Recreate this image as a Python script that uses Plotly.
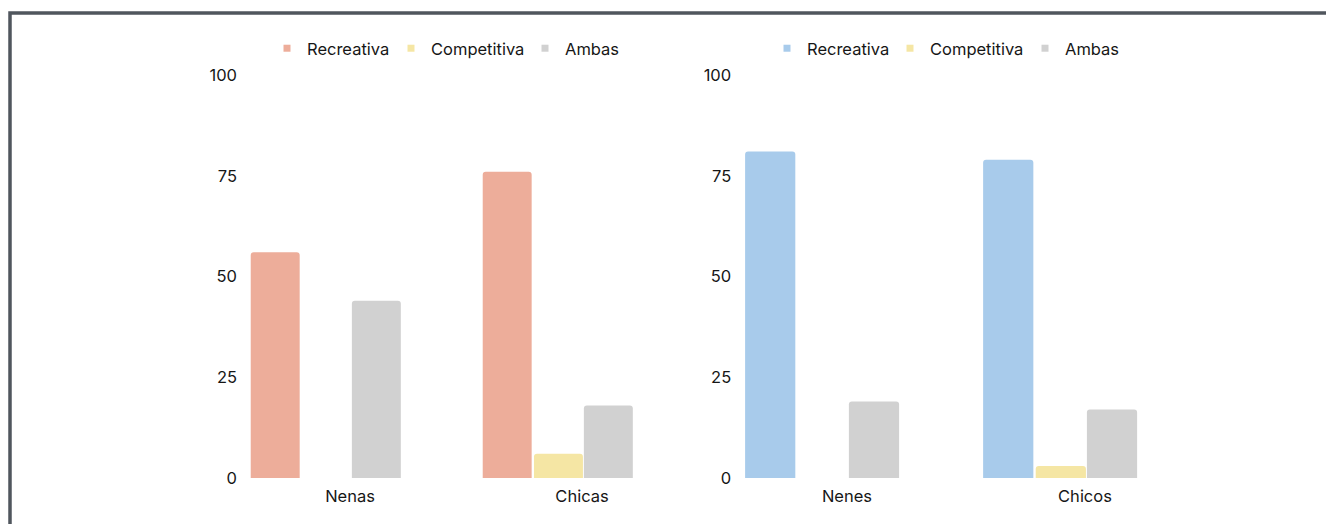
import plotly.graph_objects as go

W, H = 1326, 524

# --- data -------------------------------------------------------------
categorias_izq = ["Nenas", "Chicas"]
categorias_der = ["Nenes", "Chicos"]
series = ["Recreativa", "Competitiva", "Ambas"]

recreativa_izq = [56, 76]
competitiva_izq = [0, 6]
ambas_izq = [44, 18]

recreativa_der = [81, 79]
competitiva_der = [0, 3]
ambas_der = [19, 17]

y_ticks = [0, 25, 50, 75, 100]

# --- styles -----------------------------------------------------------
colores_izq = {"Recreativa": "#EDAD9A", "Competitiva": "#F5E6A4", "Ambas": "#D1D1D1"}
colores_der = {"Recreativa": "#A8CBEB", "Competitiva": "#F5E6A4", "Ambas": "#D1D1D1"}
FONT = dict(family="Inter, Roboto, Arial, sans-serif", size=16.5, color="#161616")

BAR_W = 0.211
OFFSETS = {"Recreativa": -0.428, "Competitiva": -0.207, "Ambas": 0.008}

# left edge (px) of each legend entry, one row above each panel
LEG_X_IZQ = {"Recreativa": 267, "Competitiva": 391, "Ambas": 525}
LEG_X_DER = {"Recreativa": 767, "Competitiva": 890, "Ambas": 1025}
LEG_Y = 48.5


def px_x(p):
    return p / W


def px_y(p):
    return 1 - p / H


fig = go.Figure()

paneles = [
    ("x", "y", categorias_izq,
     {"Recreativa": recreativa_izq, "Competitiva": competitiva_izq, "Ambas": ambas_izq},
     colores_izq, LEG_X_IZQ),
    ("x2", "y2", categorias_der,
     {"Recreativa": recreativa_der, "Competitiva": competitiva_der, "Ambas": ambas_der},
     colores_der, LEG_X_DER),
]

legend_layout = {}
n_leg = 0
for xa, ya, cats, valores, colores, leg_x in paneles:
    for s in series:
        n_leg += 1
        leg_name = "legend" if n_leg == 1 else f"legend{n_leg}"
        fig.add_trace(go.Bar(
            x=cats, y=valores[s], name=s,
            xaxis=xa, yaxis=ya,
            width=BAR_W, offset=OFFSETS[s],
            marker=dict(color=colores[s], line=dict(width=0)),
            showlegend=False,
        ))
        # small square legend entry
        fig.add_trace(go.Scatter(
            x=[None], y=[None], name=s, mode="markers",
            xaxis=xa, yaxis=ya, legend=leg_name,
            marker=dict(symbol="square", size=7, color=colores[s]),
            showlegend=True, hoverinfo="skip",
        ))
        legend_layout[leg_name] = dict(
            orientation="h", x=px_x(leg_x[s]), xanchor="left",
            y=px_y(LEG_Y), yanchor="middle", font=FONT,
            bgcolor="rgba(0,0,0,0)",
        )

y_dom = [px_y(478), px_y(75)]
x_range = [-0.457, 1.5]

axis_common = dict(showgrid=False, zeroline=False, showline=False, ticks="",
                   tickfont=FONT, fixedrange=True, automargin=False)

fig.update_layout(
    width=W, height=H,
    margin=dict(l=0, r=0, t=0, b=0, autoexpand=False),
    paper_bgcolor="white", plot_bgcolor="white",
    font=FONT,
    barmode="overlay",
    barcornerradius=3,
    xaxis=dict(domain=[px_x(244), px_x(698)], range=x_range, type="category",
               anchor="y", ticklabelstandoff=6, **axis_common),
    yaxis=dict(domain=y_dom, range=[0, 100], tickvals=y_ticks, anchor="x",
               ticklabelstandoff=6, **axis_common),
    xaxis2=dict(domain=[px_x(738.2), px_x(1204)], range=x_range, type="category",
                anchor="y2", ticklabelstandoff=6, **axis_common),
    yaxis2=dict(domain=y_dom, range=[0, 100], tickvals=y_ticks, anchor="x2",
                ticklabelstandoff=6, **axis_common),
    shapes=[dict(type="rect", xref="paper", yref="paper",
                 x0=px_x(10), y0=px_y(13), x1=1.05, y1=-0.05,
                 line=dict(color="#50565d", width=3.5), fillcolor="rgba(0,0,0,0)",
                 layer="above")],
    **legend_layout,
)

fig.write_html("out.html")
